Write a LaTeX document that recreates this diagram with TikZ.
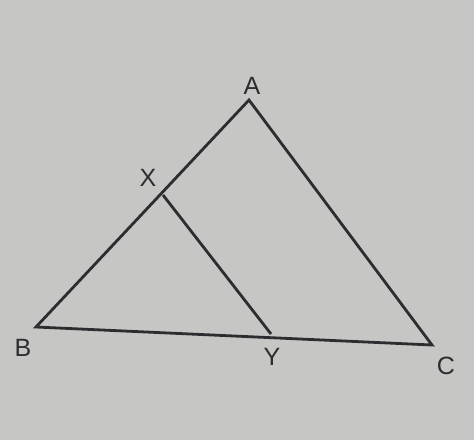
\documentclass[tikz,border=0pt]{standalone}
\usepackage{fontspec}
\setmainfont{Liberation Sans}
\definecolor{paper}{RGB}{198,198,196}
\definecolor{ink}{RGB}{45,45,48}
\begin{document}
\begin{tikzpicture}[x=1pt,y=-1pt,
  edge/.style={draw=ink,line width=2.8pt,line join=miter},
  lbl/.style={text=ink,font=\fontsize{25}{25}\selectfont,inner sep=0pt}]
\fill[paper] (0,0) rectangle (474,440);
\useasboundingbox (0,0) rectangle (474,440);
\coordinate (A) at (249,100);
\coordinate (B) at (36,327);
\coordinate (C) at (432,345);
\coordinate (X) at (163,195);
\coordinate (Y) at (271,334);
\draw[edge] (A) -- (B) -- (C) -- cycle;
\draw[edge] (X) -- (Y);
\node[lbl] (lA) at (252,86) {A};
\node[lbl] (lB) at (23,348) {B};
\node[lbl] (lC) at (446,366) {C};
\node[lbl] (lX) at (148,178) {X};
\node[lbl] (lY) at (272,357) {Y};
\end{tikzpicture}
\end{document}
